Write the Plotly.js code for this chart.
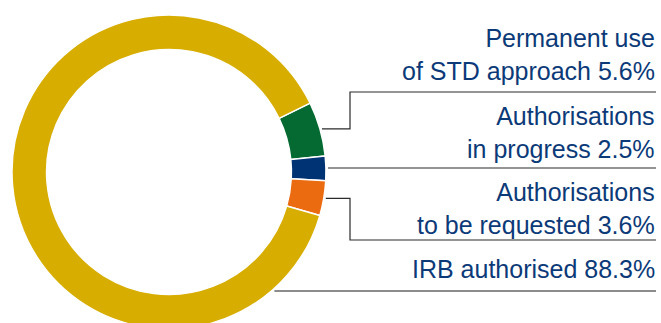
<!DOCTYPE html>
<html>
<head>
<meta charset="utf-8">
<script src="https://cdn.plot.ly/plotly-3.0.1.min.js"></script>
<style>
html,body{margin:0;padding:0;overflow:hidden;background:#fff;}
#chart{width:661px;height:340px;}
</style>
</head>
<body>
<div id="chart"></div>
<script>
// ---- data ----
var categories = ["Permanent use of STD approach", "Authorisations in progress", "Authorisations to be requested", "IRB authorised"];
var labelLines = [["Permanent use", "of STD approach 5.6%"], ["Authorisations", "in progress 2.5%"], ["Authorisations", "to be requested 3.6%"], ["IRB authorised 88.3%"]];
var values = [5.6, 2.5, 3.6, 88.3];
var colors = ["#046A31", "#003373", "#EB6B10", "#D7AD00"];

// ---- layout geometry (pixels) ----
var W = 661, H = 340;
var cx = 169, cy = 172, R = 157;
var rotation = 64;
function px(x){ return x / W; }
function py(y){ return 1 - y / H; }

var total = values.reduce(function(a,b){return a+b;}, 0);
var anchors = [];
var acc = 0;
for (var i = 0; i < values.length; i++) {
  var mid = (rotation + (acc + values[i] / 2) / total * 360) * Math.PI / 180;
  anchors.push({x: cx + R * Math.sin(mid), y: cy - R * Math.cos(mid)});
  acc += values[i];
}

var rightX = 656, elbowX = 350;
var sepY = [92, 168, 240, 291];
var textY = [55, 133, 208, 269];
var lineColor = "#2b2b2b";
var shapes = [];
// leader 1: elbow up
shapes.push({type:"path", xref:"paper", yref:"paper",
  path:"M"+px(anchors[0].x+2)+","+py(anchors[0].y)+" L"+px(elbowX)+","+py(anchors[0].y)+" L"+px(elbowX)+","+py(sepY[0])+" L"+px(rightX)+","+py(sepY[0]),
  line:{color:lineColor, width:1.2}});
// leader 2: straight
shapes.push({type:"path", xref:"paper", yref:"paper",
  path:"M"+px(anchors[1].x+2)+","+py(sepY[1])+" L"+px(rightX)+","+py(sepY[1]),
  line:{color:lineColor, width:1.2}});
// leader 3: elbow down
shapes.push({type:"path", xref:"paper", yref:"paper",
  path:"M"+px(anchors[2].x+2)+","+py(anchors[2].y)+" L"+px(elbowX)+","+py(anchors[2].y)+" L"+px(elbowX)+","+py(sepY[2])+" L"+px(rightX)+","+py(sepY[2]),
  line:{color:lineColor, width:1.2}});
// leader 4: from ring edge
var ringX = cx + Math.sqrt(R*R - (sepY[3]-cy)*(sepY[3]-cy));
shapes.push({type:"path", xref:"paper", yref:"paper",
  path:"M"+px(ringX+3)+","+py(sepY[3])+" L"+px(rightX)+","+py(sepY[3]),
  line:{color:"#666666", width:1.5}});

var annotations = labelLines.map(function(lines, i){
  return {xref:"paper", yref:"paper", x:px(rightX+1), y:py(textY[i]), xanchor:"right", yanchor:"middle",
    align:"right", showarrow:false, text: lines.join("<br>"),
    font:{family:"Liberation Sans, Arial, sans-serif", size:25, color:"#0C3A78"}};
});

var trace = {
  type:"pie", labels:categories, values:values, sort:false, direction:"clockwise",
  rotation:rotation, hole:0.78, textinfo:"none", hoverinfo:"skip", showlegend:false,
  marker:{colors:colors, line:{color:"#ffffff", width:1.5}},
  domain:{x:[px(cx-R), px(cx+R)], y:[py(cy+R), py(cy-R)]}
};

var layout = {
  width:W, height:H, margin:{l:0,r:0,t:0,b:0,pad:0},
  paper_bgcolor:"#ffffff", plot_bgcolor:"#ffffff",
  shapes:shapes, annotations:annotations, showlegend:false
};
Plotly.newPlot("chart", [trace], layout, {displayModeBar:false, staticPlot:true});
</script>
</body>
</html>
